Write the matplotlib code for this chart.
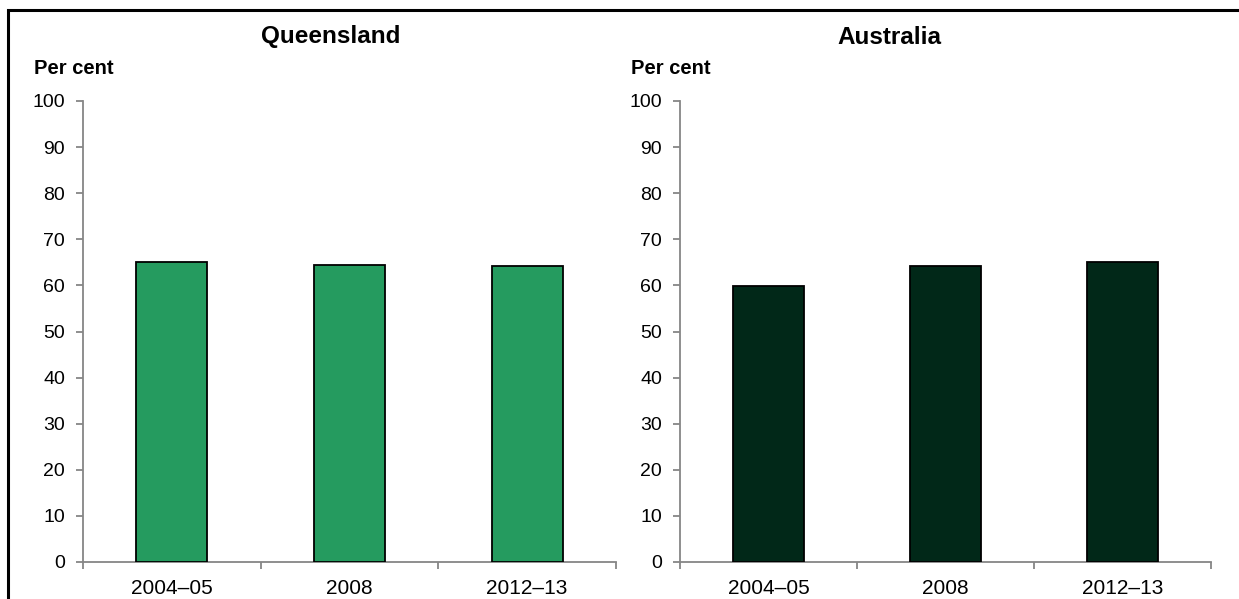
import matplotlib.pyplot as plt
from matplotlib.patches import Rectangle

plt.rcParams['font.family'] = ['Liberation Sans', 'DejaVu Sans']

# data
years = ['2004\u201305', '2008', '2012\u201313']
queensland = [65.1, 64.4, 64.3]
australia = [59.9, 64.1, 65.0]

W, H = 1239, 599
fig = plt.figure(figsize=(W / 100, H / 100), dpi=100)

# outer frame (left and top edges visible)
fig.patches.append(Rectangle((8 / W, -0.1), 1.2, 1 - 10 / H + 0.1,
                             transform=fig.transFigure, fill=False,
                             edgecolor='black', linewidth=2.2))

panels = [
    ('Queensland', queensland, '#259B5F', 83, 616, 331, 34),
    ('Australia', australia, '#012818', 680, 1211, 889, 631),
]

for title, vals, color, x0, x1, tx, px in panels:
    ax = fig.add_axes([x0 / W, 1 - 562 / H, (x1 - x0) / W, (562 - 101) / H])
    ax.bar(range(3), vals, width=0.4, color=color, edgecolor='black',
           linewidth=1.3, zorder=3)
    ax.set_xlim(-0.5, 2.5)
    ax.set_ylim(0, 100)
    ax.set_yticks(range(0, 101, 10))
    ax.set_xticks([-0.5, 0.5, 1.5, 2.5])
    ax.set_xticklabels([])
    ax.set_xticks(range(3), minor=True)
    ax.set_xticklabels(years, minor=True, fontsize=15)
    ax.tick_params(axis='x', which='minor', length=0, pad=12)
    ax.tick_params(axis='x', which='major', length=5, color='#868686', width=1.3)
    ax.tick_params(axis='y', length=5, color='#868686', width=1.3,
                   labelsize=14, pad=8)
    for s in ['top', 'right']:
        ax.spines[s].set_visible(False)
    for s in ['left', 'bottom']:
        ax.spines[s].set_color('#868686')
        ax.spines[s].set_linewidth(1.3)
    fig.text(tx / W, 1 - 37 / H, title, ha='center', va='center',
             fontsize=17.5, fontweight='bold')
    fig.text(px / W, 1 - 68 / H, 'Per cent', ha='left', va='center',
             fontsize=14.5, fontweight='bold')

plt.savefig('out.png', dpi=100)
